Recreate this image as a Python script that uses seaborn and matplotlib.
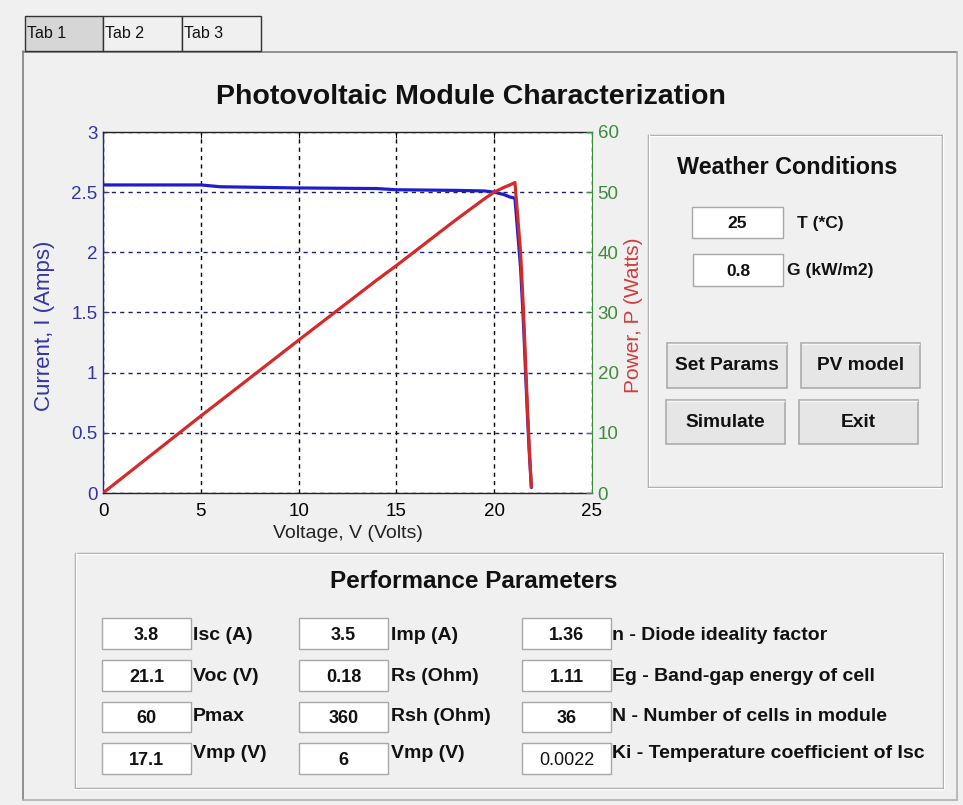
import matplotlib
matplotlib.use("Agg")
import matplotlib.pyplot as plt
from matplotlib.patches import Rectangle
from matplotlib.lines import Line2D
import seaborn as sns

# ---------------- data ----------------
voltage = [0, 5, 6, 10, 14, 15, 18, 19.5, 20, 20.5, 20.8, 21.06,
           21.2, 21.35, 21.5, 21.6, 21.7, 21.8, 21.9]
current = [2.56, 2.56, 2.545, 2.535, 2.53, 2.52, 2.515, 2.51, 2.50, 2.48, 2.46, 2.45,
           2.17, 1.87, 1.40, 1.02, 0.645, 0.32, 0.046]
power = [0, 12.8, 15.3, 25.4, 35.4, 37.8, 45.3, 48.9, 50.0, 50.8, 51.2, 51.6,
         46.0, 39.9, 30.1, 22.0, 14.0, 7.0, 1.0]

x_ticks = [0, 5, 10, 15, 20, 25]
i_ticks = [0, 0.5, 1, 1.5, 2, 2.5, 3]
i_tick_labels = ["0", "0.5", "1", "1.5", "2", "2.5", "3"]
p_ticks = [0, 10, 20, 30, 40, 50, 60]

title = "Photovoltaic Module Characterization"
tabs = ["Tab 1", "Tab 2", "Tab 3"]
weather_values = ["25", "0.8"]
weather_labels = ["T (*C)", "G (kW/m2)"]
buttons = ["Set Params", "PV model", "Simulate", "Exit"]
col1_values = ["3.8", "21.1", "60", "17.1"]
col1_labels = ["Isc (A)", "Voc (V)", "Pmax", "Vmp (V)"]
col2_values = ["3.5", "0.18", "360", "6"]
col2_labels = ["Imp (A)", "Rs (Ohm)", "Rsh (Ohm)", "Vmp (V)"]
col3_values = ["1.36", "1.11", "36", "0.0022"]
col3_labels = ["n - Diode ideality factor", "Eg - Band-gap energy of cell",
               "N - Number of cells in module", "Ki - Temperature coefficient of Isc"]

# ---------------- style ----------------
sns.set_style("white")
plt.rcParams["font.family"] = ["Liberation Sans", "DejaVu Sans"]

W, H = 963, 805
BG = "#f0f0f0"
BLUE_LINE = "#1e1ec8"
RED_LINE = "#d42a2a"
BLUE_TXT = "#3434a6"
GREEN_TXT = "#3c8c3c"
RED_TXT = "#d23c3c"

fig = plt.figure(figsize=(W / 100, H / 100), dpi=100, facecolor=BG)


def fx(x):
    return x / W


def fy(y):
    return 1 - y / H


def rect(x0, y0, x1, y1, fc="none", ec="#a0a0a0", lw=1.0, z=1):
    r = Rectangle((fx(x0), fy(y1)), (x1 - x0) / W, (y1 - y0) / H,
                  transform=fig.transFigure, facecolor=fc, edgecolor=ec,
                  linewidth=lw, zorder=z)
    fig.add_artist(r)


def hline(x0, x1, y, color, lw=1.0, z=2):
    fig.add_artist(Line2D([fx(x0), fx(x1)], [fy(y), fy(y)], transform=fig.transFigure,
                          color=color, lw=lw, zorder=z))


def vline(x, y0, y1, color, lw=1.0, z=2):
    fig.add_artist(Line2D([fx(x), fx(x)], [fy(y0), fy(y1)], transform=fig.transFigure,
                          color=color, lw=lw, zorder=z))


def etched(x0, y0, x1, y1):
    hline(x0, x1, y0, "#a0a0a0")
    hline(x0, x1, y0 + 1.2, "white")
    vline(x0, y0, y1, "#a0a0a0")
    vline(x0 + 1.2, y0, y1, "white")
    hline(x0, x1, y1, "#a0a0a0")
    hline(x0, x1, y1 + 1.2, "white")
    vline(x1, y0, y1, "#a0a0a0")
    vline(x1 + 1.2, y0, y1, "white")


def text(x, y, s, size, ha="left", weight="bold", color="#111111", va="center"):
    fig.text(fx(x), fy(y), s, fontsize=size, ha=ha, va=va, weight=weight, color=color)


# ---------------- tabs & outer panel ----------------
tab_x = [25, 103, 182, 261]
for i, t in enumerate(tabs):
    rect(tab_x[i], 16, tab_x[i + 1], 51, fc="#d6d6d6" if i == 0 else BG, ec="#333333", lw=1.0, z=3)
    text(tab_x[i] + 2, 34, t, 11.5, weight="normal", color="#111111")

vline(23, 51, 800, "#808080", lw=1.2)
hline(23, 957, 52, "#808080", lw=1.2)
vline(957, 52, 800, "#b0b0b0", lw=1.2)
hline(23, 957, 800, "#b0b0b0", lw=1.2)

# ---------------- title ----------------
text(471, 97, title, 20.5, ha="center")

# ---------------- chart ----------------
ax_l, ax_r, ax_t, ax_b = 103, 592, 132, 493
ax = fig.add_axes([fx(ax_l), fy(ax_b), (ax_r - ax_l) / W, (ax_b - ax_t) / H])
ax.set_facecolor("white")

sns.lineplot(x=voltage, y=current, ax=ax, color=BLUE_LINE, linewidth=2.3, zorder=3)
ax.set_xlim(0, 25)
ax.set_ylim(0, 3)
ax.set_xticks(x_ticks)
ax.set_yticks(i_ticks)
ax.set_yticklabels(i_tick_labels)
ax.set_axisbelow(True)
ax.xaxis.grid(True, color="black", linestyle=(0, (3, 3)), linewidth=1.0)
ax.yaxis.grid(True, color="#1c1c6e", linestyle=(0, (3, 3)), linewidth=1.0)
ax.tick_params(axis="x", direction="in", length=4, top=True, labelsize=13.5, colors="black", pad=7.5)
ax.tick_params(axis="y", direction="in", length=4, labelsize=13.5, colors=BLUE_TXT, pad=4)
for s in ["top", "bottom"]:
    ax.spines[s].set_color("#222222")
ax.spines["left"].set_color("#24248a")
ax.spines["right"].set_visible(False)
for s in ax.spines.values():
    s.set_linewidth(1.0)

ax.set_xlabel("Voltage, V (Volts)", fontsize=14, color="#222222")
ax.xaxis.set_label_coords(0.501, -0.111)
ax.xaxis.label.set_va("center")
ax.set_ylabel("Current, I (Amps)", fontsize=16, color=BLUE_TXT)
ax.yaxis.set_label_coords(-0.119, 0.463)
ax.yaxis.label.set_va("center")

ax2 = ax.twinx()
sns.lineplot(x=voltage, y=power, ax=ax2, color=RED_LINE, linewidth=2.3)
ax2.set_ylim(0, 60)
ax2.set_yticks(p_ticks)
ax2.tick_params(axis="y", direction="in", length=4, labelsize=13.5, colors=GREEN_TXT, pad=4)
ax2.spines["right"].set_color("#3c8c3c")
for s in ["top", "bottom", "left"]:
    ax2.spines[s].set_visible(False)
ax2.set_ylabel("Power, P (Watts)", fontsize=15, color=RED_TXT)
ax2.yaxis.set_label_coords(1.084, 0.493)
ax2.yaxis.label.set_va("center")
ax2.grid(False)

# ---------------- weather panel ----------------
etched(648, 135, 942, 487)
text(787, 167, "Weather Conditions", 16.8, ha="center")
w_boxes = [(692, 207, 783, 238), (693, 254, 783, 286)]
w_label_x = [797, 787]
for (x0, y0, x1, y1), v, lab, lx in zip(w_boxes, weather_values, weather_labels, w_label_x):
    rect(x0, y0, x1, y1, fc="white", ec="#a8a8a8", lw=1.0, z=3)
    text((x0 + x1) / 2, (y0 + y1) / 2 + 1, v, 12.5, ha="center")
    text(lx, (y0 + y1) / 2 + 1, lab, 12.5)

b_boxes = [(667, 343, 787, 388), (801, 343, 920, 388), (666, 400, 785, 444), (799, 400, 918, 444)]
for (x0, y0, x1, y1), b in zip(b_boxes, buttons):
    rect(x0, y0, x1, y1, fc="#e6e6e6", ec="#acacac", lw=1.2, z=3)
    hline(x0 + 1, x1 - 1, y0 + 1.5, "#f6f6f6", lw=1.0, z=4)
    text((x0 + x1) / 2, (y0 + y1) / 2, b, 13.8, ha="center")

# ---------------- performance panel ----------------
etched(75, 553, 943, 788)
text(474, 581, "Performance Parameters", 17.5, ha="center")
row_tops = [618, 660, 702, 743]
row_bots = [649, 691, 732, 774]
label_y = [636, 676, 716, 753]
cols = [
    (102, 191, 193, col1_values, col1_labels),
    (299, 388, 391, col2_values, col2_labels),
    (522, 611, 612, col3_values, col3_labels),
]
for ci, (bx0, bx1, lx, vals, labs) in enumerate(cols):
    for ri, (y0, y1) in enumerate(zip(row_tops, row_bots)):
        rect(bx0, y0, bx1, y1, fc="white", ec="#a8a8a8", lw=1.0, z=3)
        wgt = "normal" if (ci == 2 and ri == 3) else "bold"
        text((bx0 + bx1) / 2, (y0 + y1) / 2 + 1.5, vals[ri], 13, ha="center", weight=wgt)
        text(lx, label_y[ri], labs[ri], 14)

fig.savefig("out.png", dpi=100, facecolor=BG)
